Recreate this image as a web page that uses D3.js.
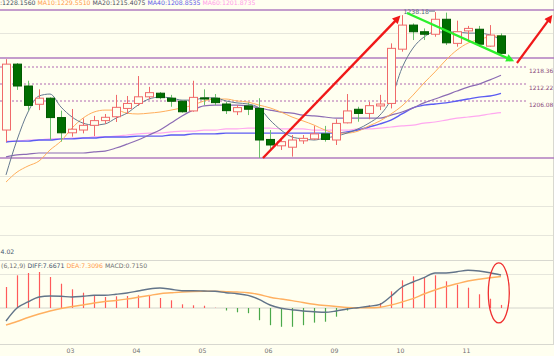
<!DOCTYPE html>
<html>
<head>
<meta charset="utf-8">
<script src="https://cdn.jsdelivr.net/npm/d3@7"></script>
<style>
  body { margin: 0; background: #fffff0; }
  svg { display: block; font-family: "DejaVu Sans", Verdana, sans-serif; }
</style>
</head>
<body>
<script>
// 4-hour candles
var opens  = [1195.6,1219.4,1211.5,1204.9,1207.1,1200.1,1194.6,1195.6,1197.3,1199.0,1200.4,1203.4,1205.2,1207.6,1208.9,1207.1,1206.0,1202.5,1207.2,1207.1,1205.0,1202.2,1204.3,1203.4,1192.2,1189.9,1189.4,1191.7,1192.4,1194.2,1192.0,1198.2,1203.1,1201.6,1204.3,1205.2,1224.8,1233.5,1231.1,1230.2,1235.6,1226.9,1231.4,1232.0,1225.9,1229.6];
var highs  = [1221.2,1219.8,1213.4,1210.3,1207.4,1202.6,1203.2,1199.8,1200.7,1201.4,1208.3,1207.9,1215.1,1211.2,1209.3,1208.3,1206.2,1213.4,1210.3,1208.6,1205.8,1204.6,1205.5,1207.1,1195.6,1192.0,1193.8,1193.8,1197.1,1197.1,1199.5,1208.6,1204.0,1205.8,1208.3,1226.9,1237.1,1234.1,1232.3,1238.18,1238.0,1235.1,1233.2,1233.2,1233.5,1230.5];
var lows   = [1191.3,1210.1,1202.6,1202.8,1192.0,1191.4,1193.2,1194.4,1193.4,1197.8,1198.5,1201.4,1204.3,1206.7,1206.7,1204.0,1201.9,1202.2,1204.6,1204.6,1201.4,1201.0,1201.0,1185.5,1188.4,1188.4,1186.0,1190.6,1192.0,1191.4,1190.2,1198.0,1198.6,1199.5,1202.8,1203.4,1223.9,1228.1,1228.1,1229.3,1226.3,1225.7,1227.5,1225.7,1225.7,1223.1];
var closes = [1219.4,1211.5,1204.5,1207.1,1200.1,1194.6,1195.9,1197.3,1199.0,1200.2,1203.8,1205.2,1207.6,1209.1,1207.3,1206.0,1202.2,1207.4,1206.8,1205.5,1202.6,1203.7,1203.1,1192.0,1190.2,1191.4,1192.0,1192.6,1194.2,1192.2,1198.0,1202.5,1201.6,1204.4,1205.0,1225.1,1233.5,1231.1,1230.2,1235.6,1227.1,1231.1,1232.3,1226.6,1229.9,1223.3];

// moving averages as drawn
var ma5  = [1179.4,1192.0,1202.1,1207.9,1208.6,1203.9,1200.3,1198.1,1197.4,1197.8,1199.9,1201.7,1204.6,1206.8,1207.5,1207.2,1206.4,1206.4,1207.2,1207.2,1206.1,1205.4,1205.0,1203.6,1199.2,1195.6,1193.1,1192.4,1192.0,1192.7,1193.4,1194.5,1196.0,1198.1,1201.0,1206.8,1218.0,1225.2,1229.2,1231.0,1231.0,1231.0,1230.6,1230.6,1229.9,1228.2];
var ma10 = [1176.8,1180.4,1182.6,1184.4,1188.4,1191.6,1196.3,1199.9,1202.1,1202.8,1202.8,1201.7,1201.4,1201.7,1202.1,1202.8,1203.6,1204.6,1206.1,1206.8,1206.8,1206.1,1205.7,1204.6,1203.6,1202.1,1200.3,1198.9,1197.4,1195.6,1194.5,1194.5,1195.2,1197.1,1198.9,1201.4,1204.3,1208.2,1212.6,1216.6,1220.9,1224.5,1227.0,1228.3,1229.3,1229.6];
var ma20 = [1185.9,1186.6,1186.9,1187.3,1187.3,1187.3,1187.3,1187.3,1187.7,1188.0,1189.1,1190.5,1192.0,1193.8,1195.6,1198.1,1200.7,1202.8,1204.3,1204.6,1204.6,1204.6,1204.3,1203.6,1202.8,1202.1,1201.7,1201.0,1200.7,1200.3,1199.9,1199.9,1199.9,1199.9,1199.9,1201.0,1202.1,1203.6,1205.4,1206.8,1208.2,1209.7,1211.1,1212.2,1213.7,1215.4];
var ma40 = [1191.3,1191.6,1191.6,1192.0,1192.0,1192.4,1192.4,1192.7,1192.7,1193.1,1193.1,1193.1,1193.4,1193.4,1193.4,1193.8,1193.8,1194.2,1194.2,1194.2,1194.5,1194.5,1194.5,1194.5,1194.5,1194.5,1194.5,1194.5,1194.5,1194.5,1194.5,1194.9,1195.6,1196.7,1197.8,1199.2,1201.4,1203.6,1204.6,1205.0,1205.4,1206.1,1206.8,1207.5,1207.9,1208.85];
var ma60 = [1191.6,1191.6,1192.0,1192.0,1192.4,1192.4,1192.7,1192.7,1193.1,1193.1,1193.4,1193.8,1194.2,1194.5,1194.5,1194.9,1195.2,1195.2,1195.6,1195.6,1196.0,1196.0,1196.3,1196.3,1196.3,1196.0,1196.0,1196.0,1195.6,1195.6,1195.6,1195.6,1196.0,1196.0,1196.3,1196.7,1197.1,1197.4,1198.1,1198.5,1199.2,1199.9,1200.3,1200.7,1201.4,1201.87];

// MACD panel
var diff = [-3.02,0,1.40,2.56,2.79,2.72,2.56,2.72,2.95,2.95,3.19,3.49,3.95,4.42,4.65,4.35,4.02,4.02,3.95,3.88,3.56,3.33,2.95,2.02,0.70,-0.07,-0.40,-0.70,-0.86,-1.00,-0.70,-0.23,0.07,0.40,0.86,2.72,4.88,6.05,7.05,8.14,8.14,8.44,8.77,8.60,8.21,7.67];
var dea  = [-3.95,-3.14,-2.21,-1.40,-0.70,-0.12,0.35,0.70,1.16,1.51,1.74,2.09,2.49,2.91,3.33,3.53,3.72,3.84,3.88,3.88,3.81,3.72,3.56,3.14,2.51,2.09,1.72,1.28,0.88,0.58,0.35,0.14,0.07,0.07,0.19,0.70,1.40,2.16,3.26,4.19,5.00,5.65,6.28,6.70,7.02,7.31];
var macd = [4.88,7.60,8.14,8.37,7.21,5.65,4.35,3.56,2.95,2.56,2.72,2.79,2.95,2.95,2.33,1.79,0.86,0.63,0.53,0.07,-0.58,-1.00,-1.21,-2.84,-4.00,-4.37,-4.37,-4.00,-3.40,-3.19,-2.02,-0.58,0.23,0.63,1.16,3.88,6.44,7.37,7.21,7.60,6.21,5.42,4.72,3.19,2.16,0.715];

// day ticks (candle index) and labels
var dayIdx = [6, 12, 18, 24, 30, 36, 42];
var dayLabels = ["03", "04", "05", "06", "09", "10", "11"];

// drawn levels
var solidLevels = [1238.95, 1221.6, 1185.5];
var dottedLevels = [1218.36, 1212.22, 1206.08];

var W = 554, H = 356;

var svg = d3.select("body").append("svg")
    .attr("width", W)
    .attr("height", H);

svg.append("rect").attr("width", W).attr("height", H).attr("fill", "#fffff0");

var x = d3.scaleLinear().domain([0, 45]).range([6, 501]);
var y = d3.scaleLinear().domain([1185.5, 1238.95]).range([158, 10]);
var m = d3.scaleLinear().domain([0, 10]).range([308, 265]);

// light grid and panel frame
[33, 176, 206, 235, 274].forEach(function(gy){
    svg.append("line").attr("x1", 0).attr("x2", W).attr("y1", gy + 0.5).attr("y2", gy + 0.5)
        .attr("stroke", "#e6e6dc").attr("stroke-width", 1);
});
[260, 344].forEach(function(gy){
    svg.append("line").attr("x1", 0).attr("x2", W).attr("y1", gy + 0.5).attr("y2", gy + 0.5)
        .attr("stroke", "#d8d8d0").attr("stroke-width", 1);
});
svg.append("line").attr("x1", 0).attr("x2", W).attr("y1", m(0)).attr("y2", m(0))
    .attr("stroke", "#d4d4cc").attr("stroke-width", 1);
svg.append("line").attr("x1", 553.5).attr("x2", 553.5).attr("y1", 0).attr("y2", 344)
    .attr("stroke", "#d8d8d0");

// drawn price levels
svg.selectAll(".solid").data(solidLevels).enter().append("line")
    .attr("class", "solid")
    .attr("x1", 0).attr("x2", W)
    .attr("y1", function(d){ return y(d); }).attr("y2", function(d){ return y(d); })
    .attr("stroke", "#b07cc0").attr("stroke-width", 1.6);

svg.selectAll(".dotted").data(dottedLevels).enter().append("line")
    .attr("class", "dotted")
    .attr("x1", 0).attr("x2", 528)
    .attr("y1", function(d){ return y(d); }).attr("y2", function(d){ return y(d); })
    .attr("stroke", "#b068b0").attr("stroke-width", 1)
    .attr("stroke-dasharray", "2,2");

svg.selectAll(".lvl").data(dottedLevels).enter().append("text")
    .attr("class", "lvl")
    .attr("x", 529)
    .attr("y", function(d){ return y(d) + 5.5; })
    .attr("font-size", 5.9)
    .attr("fill", "#8a4a7a")
    .text(function(d){ return d.toFixed(2); });

// moving averages
var idx = d3.range(opens.length);
function maLine(vals, color, w){
    var line = d3.line()
        .x(function(i){ return x(i); })
        .y(function(i){ return y(vals[i]); })
        .curve(d3.curveMonotoneX);
    svg.append("path").datum(idx)
        .attr("d", line)
        .attr("fill", "none")
        .attr("stroke", color)
        .attr("stroke-width", w);
}
maLine(ma60, "#ffa8f0", 1.2);
maLine(ma40, "#5c5cf2", 1.4);
maLine(ma20, "#8c6cb4", 1.2);
maLine(ma10, "#ffae5c", 1);
maLine(ma5, "#667a90", 1);

// candles
var up = function(i){ return closes[i] >= opens[i]; };
var candle = svg.selectAll(".candle").data(idx).enter().append("g").attr("class", "candle");

candle.append("line")
    .attr("x1", function(i){ return Math.round(x(i)) + 0.5; })
    .attr("x2", function(i){ return Math.round(x(i)) + 0.5; })
    .attr("y1", function(i){ return y(highs[i]); })
    .attr("y2", function(i){ return y(lows[i]); })
    .attr("stroke", function(i){ return up(i) ? "#f06a6a" : "#6cc06c"; })
    .attr("stroke-width", 1);

candle.append("rect")
    .attr("x", function(i){ return Math.round(x(i)) - 3.5; })
    .attr("width", 8)
    .attr("y", function(i){ return y(Math.max(opens[i], closes[i])); })
    .attr("height", function(i){ return Math.max(1, Math.abs(y(opens[i]) - y(closes[i]))); })
    .attr("fill", function(i){ return up(i) ? "#fffff0" : "#006e00"; })
    .attr("stroke", function(i){ return up(i) ? "#f06a6a" : "#005a00"; })
    .attr("stroke-width", 1);

// high marker
var hi = d3.maxIndex(highs);
svg.append("text")
    .attr("x", x(hi) - 6)
    .attr("y", y(highs[hi]) + 2)
    .attr("text-anchor", "end")
    .attr("font-size", 6.2)
    .attr("fill", "#50627a")
    .text(highs[hi].toFixed(2));
svg.append("line")
    .attr("x1", x(hi) - 6).attr("x2", x(hi))
    .attr("y1", y(highs[hi]) - 1).attr("y2", y(highs[hi]) - 1)
    .attr("stroke", "#50627a").attr("stroke-width", 0.8);

// MACD bars and lines
svg.selectAll(".bar").data(idx).enter().append("line")
    .attr("class", "bar")
    .attr("x1", function(i){ return Math.round(x(i)) + 0.5; })
    .attr("x2", function(i){ return Math.round(x(i)) + 0.5; })
    .attr("y1", m(0))
    .attr("y2", function(i){ return m(macd[i]); })
    .attr("stroke", function(i){ return macd[i] >= 0 ? "#ff5a5a" : "#4aa84a"; })
    .attr("stroke-width", 1.2);

function macdLine(vals, color){
    svg.append("path").datum(idx)
        .attr("d", d3.line().x(function(i){ return x(i); }).y(function(i){ return m(vals[i]); }).curve(d3.curveMonotoneX))
        .attr("fill", "none")
        .attr("stroke", color)
        .attr("stroke-width", 1.4);
}
macdLine(dea, "#ffb060");
macdLine(diff, "#627489");

// day axis
var axis = svg.append("g")
    .attr("transform", "translate(-2,346)")
    .call(d3.axisBottom(x).tickValues(dayIdx).tickSize(0)
        .tickFormat(function(d, i){ return dayLabels[i]; }));
axis.select(".domain").remove();
axis.selectAll("text").attr("font-size", 6.2).attr("fill", "#707070")
    .attr("font-family", "DejaVu Sans, sans-serif");

// header texts
var head = svg.append("text").attr("x", 0).attr("y", 5.2).attr("font-size", 6.2);
head.append("tspan").attr("fill", "#3e4e60").text(":1228.1560 ");
head.append("tspan").attr("fill", "#ff9a4a").text("MA10:1229.5510 ");
head.append("tspan").attr("fill", "#505060").text("MA20:1215.4075 ");
head.append("tspan").attr("fill", "#5a5ae8").text("MA40:1208.8535 ");
head.append("tspan").attr("fill", "#ff9ae8").text("MA60:1201.8735");

svg.append("text").attr("x", 0.5).attr("y", 254).attr("font-size", 6.2)
    .attr("fill", "#4a5a70").text("4.02");

var mh = svg.append("text").attr("x", 1).attr("y", 268).attr("font-size", 6.2);
mh.append("tspan").attr("fill", "#707070").text("(6,12,9) ");
mh.append("tspan").attr("fill", "#44546e").text("DIFF:7.6671 ");
mh.append("tspan").attr("fill", "#ff9a4a").text("DEA:7.3096 ");
mh.append("tspan").attr("fill", "#707070").text("MACD:0.7150");

// hand-drawn annotations, in candle-index / price space
var defs = svg.append("defs");
function head_(id, color){
    defs.append("marker").attr("id", id)
        .attr("viewBox", "0 0 10 10").attr("refX", 3).attr("refY", 5)
        .attr("markerUnits", "userSpaceOnUse")
        .attr("markerWidth", 10).attr("markerHeight", 8)
        .attr("orient", "auto")
        .append("path").attr("d", "M0,0L10,5L0,10z").attr("fill", color);
}
head_("redHead", "#f01818");
head_("greenHead", "#2cf02c");

function arrow(a, b, color, w, mk){
    svg.append("line")
        .attr("x1", x(a[0])).attr("y1", y(a[1]))
        .attr("x2", x(b[0])).attr("y2", y(b[1]))
        .attr("stroke", color).attr("stroke-width", w)
        .attr("marker-end", "url(#" + mk + ")");
}
arrow([23.36, 1185.5], [35.5, 1235.5], "#f01818", 2.4, "redHead");
arrow([36.45, 1237.86], [45.73, 1221.3], "#2cf02c", 2.2, "greenHead");
arrow([46.45, 1219.8], [49.36, 1235.5], "#f01818", 2.2, "redHead");

svg.append("ellipse")
    .attr("cx", x(44.8)).attr("cy", m(3.5))
    .attr("rx", 10.5).attr("ry", 30)
    .attr("fill", "none")
    .attr("stroke", "#f03030").attr("stroke-width", 1.3);
</script>
</body>
</html>
